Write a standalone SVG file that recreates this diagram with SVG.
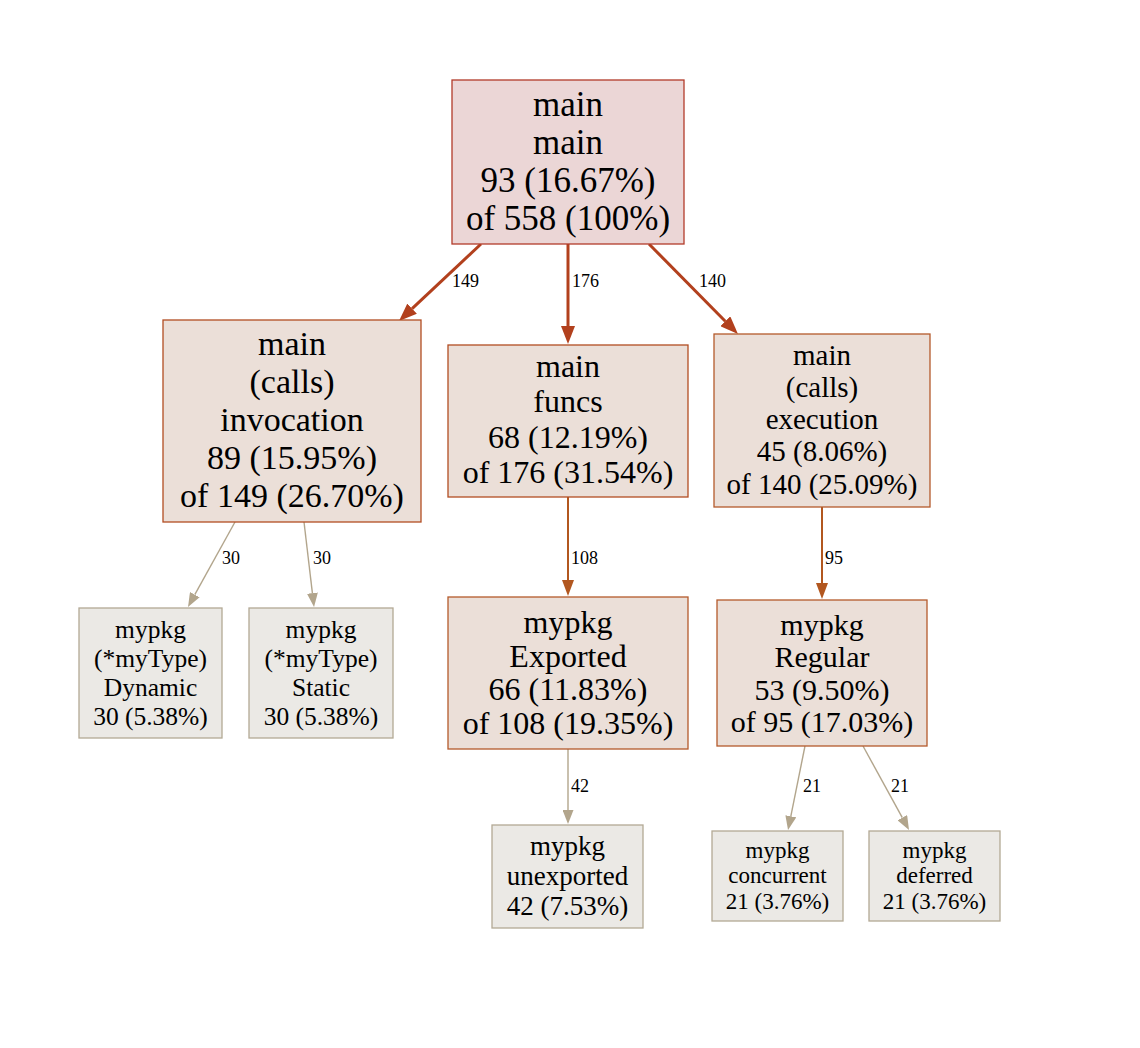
<svg xmlns="http://www.w3.org/2000/svg" width="1140" height="1048" viewBox="0 0 1140 1048">
<style>
text{font-family:"Liberation Serif","Times New Roman",serif;fill:#000;text-anchor:middle}
.el{font-size:18px;text-anchor:start}
.n0 rect{fill:#ebd6d6;stroke:#b23b2a;stroke-width:1.3}
.n1 rect{fill:#ebdfd8;stroke:#b24d22;stroke-width:1.3}
.n2 rect{fill:#ebdfd8;stroke:#b45a2c;stroke-width:1.3}
.n3 rect{fill:#ebe9e5;stroke:#b3a994;stroke-width:1.3}
.e0{stroke:#b2401d;stroke-width:3;fill:none}
.e1{stroke:#b2571f;stroke-width:2;fill:none}
.e2{stroke:#b2a58c;stroke-width:1.4;fill:none}
</style>
<defs>
<marker id="a0" viewBox="0 0 10 10" refX="0" refY="5" markerWidth="18" markerHeight="14" markerUnits="userSpaceOnUse" orient="auto" preserveAspectRatio="none"><path d="M0,0L10,5L0,10z" fill="#b2401d"/></marker>
<marker id="a1" viewBox="0 0 10 10" refX="0" refY="5" markerWidth="16" markerHeight="12" markerUnits="userSpaceOnUse" orient="auto" preserveAspectRatio="none"><path d="M0,0L10,5L0,10z" fill="#b2571f"/></marker>
<marker id="a2" viewBox="0 0 10 10" refX="0" refY="5" markerWidth="14" markerHeight="11" markerUnits="userSpaceOnUse" orient="auto" preserveAspectRatio="none"><path d="M0,0L10,5L0,10z" fill="#b2a58c"/></marker>
</defs>
<rect width="1140" height="1048" fill="#fff"/>
<g id="edges">
<path class="e0" d="M481,244L412.1,308.7" marker-end="url(#a0)"/>
<path class="e0" d="M568,244L568,326" marker-end="url(#a0)"/>
<path class="e0" d="M649,244L725.3,321.2" marker-end="url(#a0)"/>
<path class="e2" d="M235,522L194.8,594.7" marker-end="url(#a2)"/>
<path class="e2" d="M304,522L312.4,593.1" marker-end="url(#a2)"/>
<path class="e1" d="M568,497L568,580" marker-end="url(#a1)"/>
<path class="e1" d="M822,507L822,583" marker-end="url(#a1)"/>
<path class="e2" d="M568,749L568,810" marker-end="url(#a2)"/>
<path class="e2" d="M805,746L790.8,816.3" marker-end="url(#a2)"/>
<path class="e2" d="M863,746L902.3,817.7" marker-end="url(#a2)"/>
<text class="el" x="452" y="287">149</text>
<text class="el" x="572" y="287">176</text>
<text class="el" x="699" y="287">140</text>
<text class="el" x="222" y="564">30</text>
<text class="el" x="313" y="564">30</text>
<text class="el" x="571" y="564">108</text>
<text class="el" x="825" y="564">95</text>
<text class="el" x="571" y="792">42</text>
<text class="el" x="803" y="792">21</text>
<text class="el" x="891" y="792">21</text>
</g>
<g id="n_main" class="n0">
<rect x="452" y="80" width="232" height="164"/>
<text font-size="35" x="568" y="116">main</text>
<text font-size="35" x="568" y="154">main</text>
<text font-size="35" x="568" y="192">93 (16.67%)</text>
<text font-size="35" x="568" y="230">of 558 (100%)</text>
</g>
<g id="n_invocation" class="n1">
<rect x="163" y="320" width="258" height="202"/>
<text font-size="34" x="292" y="355">main</text>
<text font-size="34" x="292" y="393">(calls)</text>
<text font-size="34" x="292" y="431">invocation</text>
<text font-size="34" x="292" y="469">89 (15.95%)</text>
<text font-size="34" x="292" y="507">of 149 (26.70%)</text>
</g>
<g id="n_funcs" class="n1">
<rect x="448" y="345" width="240" height="152"/>
<text font-size="32" x="568" y="377">main</text>
<text font-size="32" x="568" y="412">funcs</text>
<text font-size="32" x="568" y="448">68 (12.19%)</text>
<text font-size="32" x="568" y="483">of 176 (31.54%)</text>
</g>
<g id="n_execution" class="n2">
<rect x="714" y="334" width="216" height="173"/>
<text font-size="29" x="822" y="365">main</text>
<text font-size="29" x="822" y="397">(calls)</text>
<text font-size="29" x="822" y="429">execution</text>
<text font-size="29" x="822" y="461">45 (8.06%)</text>
<text font-size="29" x="822" y="494">of 140 (25.09%)</text>
</g>
<g id="n_dynamic" class="n3">
<rect x="79" y="608" width="143" height="130"/>
<text font-size="25.5" x="150.5" y="638">mypkg</text>
<text font-size="25.5" x="150.5" y="667">(*myType)</text>
<text font-size="25.5" x="150.5" y="696">Dynamic</text>
<text font-size="25.5" x="150.5" y="725">30 (5.38%)</text>
</g>
<g id="n_static" class="n3">
<rect x="249" y="608" width="144" height="130"/>
<text font-size="25.5" x="321" y="638">mypkg</text>
<text font-size="25.5" x="321" y="667">(*myType)</text>
<text font-size="25.5" x="321" y="696">Static</text>
<text font-size="25.5" x="321" y="725">30 (5.38%)</text>
</g>
<g id="n_exported" class="n2">
<rect x="448" y="597" width="240" height="152"/>
<text font-size="32" x="568" y="633">mypkg</text>
<text font-size="32" x="568" y="667">Exported</text>
<text font-size="32" x="568" y="700">66 (11.83%)</text>
<text font-size="32" x="568" y="734">of 108 (19.35%)</text>
</g>
<g id="n_regular" class="n2">
<rect x="717" y="600" width="210" height="146"/>
<text font-size="30" x="822" y="635">mypkg</text>
<text font-size="30" x="822" y="667">Regular</text>
<text font-size="30" x="822" y="700">53 (9.50%)</text>
<text font-size="30" x="822" y="732">of 95 (17.03%)</text>
</g>
<g id="n_unexported" class="n3">
<rect x="492" y="825" width="151" height="103"/>
<text font-size="27" x="567.5" y="855">mypkg</text>
<text font-size="27" x="567.5" y="885">unexported</text>
<text font-size="27" x="567.5" y="915">42 (7.53%)</text>
</g>
<g id="n_concurrent" class="n3">
<rect x="712" y="831" width="131" height="90"/>
<text font-size="23" x="777.5" y="858">mypkg</text>
<text font-size="23" x="777.5" y="883">concurrent</text>
<text font-size="23" x="777.5" y="909">21 (3.76%)</text>
</g>
<g id="n_deferred" class="n3">
<rect x="869" y="831" width="131" height="90"/>
<text font-size="23" x="934.5" y="858">mypkg</text>
<text font-size="23" x="934.5" y="883">deferred</text>
<text font-size="23" x="934.5" y="909">21 (3.76%)</text>
</g>
</svg>
